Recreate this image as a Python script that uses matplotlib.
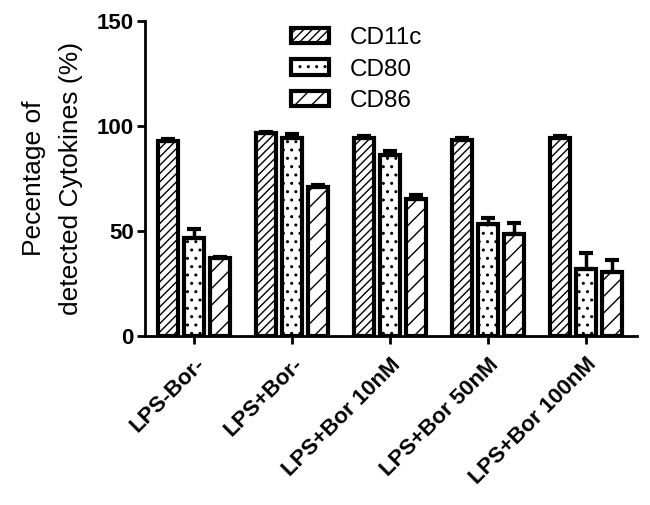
import numpy as np
import matplotlib
matplotlib.use("Agg")
import matplotlib.pyplot as plt

plt.rcParams["font.family"] = ["Liberation Sans", "DejaVu Sans"]
plt.rcParams["hatch.linewidth"] = 1.0

groups = ["LPS-Bor-", "LPS+Bor-", "LPS+Bor 10nM", "LPS+Bor 50nM", "LPS+Bor 100nM"]
markers = ["CD11c", "CD80", "CD86"]
cd11c = [93, 96.5, 94.5, 93.5, 94.5]
cd11c_err = [0.8, 0.8, 0.6, 0.8, 0.6]
cd80 = [46.5, 94.5, 86, 53.5, 32]
cd80_err = [4.5, 1.5, 2.0, 2.5, 7.5]
cd86 = [37, 71, 65, 48.5, 30.5]
cd86_err = [0.8, 0.8, 2.0, 5.5, 5.5]

values = [cd11c, cd80, cd86]
errors = [cd11c_err, cd80_err, cd86_err]
hatches = ["////", "..", "//"]

fig = plt.figure(figsize=(6.5, 5.05), dpi=100)
ax = fig.add_axes([0.223, 0.335, 0.757, 0.623])

x = np.arange(len(groups))
width = 0.21
step = 0.265
for i in range(3):
    pos = x + (i - 1) * step
    ax.bar(pos, values[i], width, facecolor="white", edgecolor="black",
           linewidth=3, hatch=hatches[i], label=markers[i], zorder=2)
    ax.errorbar(pos, values[i], yerr=[np.zeros(len(groups)), errors[i]],
                fmt="none", ecolor="black", elinewidth=2.5, capsize=5,
                capthick=3, zorder=3)

ax.set_xlim(-0.5, 4.52)
ax.set_ylim(0, 150)
ax.set_yticks([0, 50, 100, 150])
ax.set_xticks(x)
ax.set_xticklabels(groups, rotation=45, ha="right", rotation_mode="anchor",
                   fontsize=16, fontweight="bold")
for lab in ax.get_yticklabels():
    lab.set_fontsize(16)
    lab.set_fontweight("bold")

for s in ["top", "right"]:
    ax.spines[s].set_visible(False)
for s in ["left", "bottom"]:
    ax.spines[s].set_linewidth(2)
ax.tick_params(axis="both", direction="out", length=6, width=2, pad=2)
ax.tick_params(axis="x", pad=7)

ax.set_ylabel("Pecentage of\ndetected Cytokines (%)", fontsize=19, labelpad=10,
              linespacing=1.65)

leg = ax.legend(loc="upper center", bbox_to_anchor=(0.43, 1.05), frameon=False,
                fontsize=17.5, handlelength=1.55, handleheight=0.58,
                labelspacing=0.38, handletextpad=0.85)

fig.savefig("out.png", dpi=100)
